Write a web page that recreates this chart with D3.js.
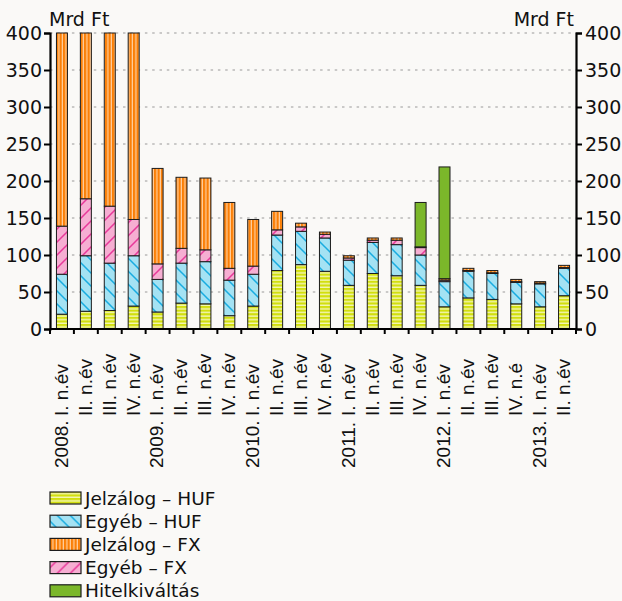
<!DOCTYPE html>
<html><head><meta charset="utf-8">
<script src="https://cdn.jsdelivr.net/npm/d3@7"></script>
<style>body{margin:0;background:#faf9f7;} svg{display:block}</style>
</head><body><svg id="c" width="622" height="601"></svg>
<script>
// ---- data ----
const categories = ["2008 I","2008 II","2008 III","2008 IV","2009 I","2009 II","2009 III","2009 IV",
  "2010 I","2010 II","2010 III","2010 IV","2011 I","2011 II","2011 III","2011 IV",
  "2012 I","2012 II","2012 III","2012 IV","2013 I","2013 II"];
const quarterLabels = ["I. n.év","II. n.év","III. n.év","IV. n.év","I. n.év","II. n.év","III. n.év","IV. n.év",
  "I. n.év","II. n.év","III. n.év","IV. n.év","I. n.év","II. n.év","III. n.év","IV. n.év",
  "I. n.év","II. n.év","III. n.év","IV. n.é","I. n.év","II. n.év"];
const yearLabels = ["2008.","","","","2009.","","","","2010.","","","","2011.","","","","2012.","","","","2013.",""];
const jelzalogHUF = [20,24,25,31,23,35,34,18,31,79,87,78,59,75,72,59,30,42,40,34,30,45];
const egyebHUF    = [54,75,64,68,44,54,57,48,43,48,45,45,34,42,42,41,34,36,35,29,31,37];
const egyebFX     = [65,77,77,49,21,20,16,16,11,7,6,5,3,3,6,10,2,1,1,1,1,1];
const jelzalogFX  = [261,224,234,252,129,96,97,89,63,25,5,3,3,3,3,1,2,3,3,3,2,3];
const hitelkivaltas = [0,0,0,0,0,0,0,0,0,0,0,0,0,0,0,60,151,0,0,0,0,0];
const yTicks = [0,50,100,150,200,250,300,350,400];
const seriesNames = ["Jelzálog – HUF","Egyéb – HUF","Jelzálog – FX","Egyéb – FX","Hitelkiváltás"];

// ---- layout ----
const svg = d3.select("#c");
const L = 50, R = 576, T = 33, B = 329;
const x = d3.scaleBand().domain(categories).range([L, R]).paddingInner(0.54).paddingOuter(0.27);
const y = d3.scaleLinear().domain([0, 400]).range([B, T]);

svg.append("rect").attr("width",622).attr("height",601).attr("fill","#faf9f7");

// patterns
const defs = svg.append("defs");
const pJH = defs.append("pattern").attr("id","pJH").attr("patternUnits","userSpaceOnUse").attr("width",8).attr("height",3.6);
pJH.append("rect").attr("width",8).attr("height",3.6).attr("fill","#d2df0e");
pJH.append("rect").attr("y",2.2).attr("width",8).attr("height",1.4).attr("fill","#f3f6b4");
const pJF = defs.append("pattern").attr("id","pJF").attr("patternUnits","userSpaceOnUse").attr("width",3.5).attr("height",8);
pJF.append("rect").attr("width",3.5).attr("height",8).attr("fill","#fb7f06");
pJF.append("rect").attr("x",2.3).attr("width",1.2).attr("height",8).attr("fill","#ffd0a0");
const pEH = defs.append("pattern").attr("id","pEH").attr("patternUnits","userSpaceOnUse").attr("width",13).attr("height",13);
pEH.append("rect").attr("width",13).attr("height",13).attr("fill","#a4e2f3");
pEH.append("path").attr("d","M-1,-1L14,14M-1,12L1,14M12,-1L14,1").attr("stroke","#18ace0").attr("stroke-width",1.5);
const pEF = defs.append("pattern").attr("id","pEF").attr("patternUnits","userSpaceOnUse").attr("width",13).attr("height",13);
pEF.append("rect").attr("width",13).attr("height",13).attr("fill","#f6aed2");
pEF.append("path").attr("d","M-1,14L14,-1M-1,1L1,-1M12,14L14,12").attr("stroke","#e8399a").attr("stroke-width",1.5);

const fills = {jelzalogHUF:"url(#pJH)", egyebHUF:"url(#pEH)", egyebFX:"url(#pEF)", jelzalogFX:"url(#pJF)", hitelkivaltas:"#7bb72a"};

// gridlines
svg.append("g").selectAll("line").data(yTicks.filter(d=>d>0)).join("line")
  .attr("x1",L).attr("x2",R).attr("y1",d=>y(d)).attr("y2",d=>y(d))
  .attr("stroke","#9a9a9a").attr("stroke-width",1.2).attr("stroke-dasharray","2.5,4.8");

// stacked bars
const rows = categories.map((c,i)=>({cat:c, jelzalogHUF:jelzalogHUF[i], egyebHUF:egyebHUF[i], egyebFX:egyebFX[i], jelzalogFX:jelzalogFX[i], hitelkivaltas:hitelkivaltas[i]}));
const keys = ["jelzalogHUF","egyebHUF","egyebFX","jelzalogFX","hitelkivaltas"];
const stacked = d3.stack().keys(keys)(rows);
svg.append("g").selectAll("g").data(stacked).join("g")
  .attr("fill", d=>fills[d.key])
  .selectAll("rect").data(d=>d.filter(s=>s[1]-s[0]>0)).join("rect")
  .attr("x", d=>x(d.data.cat)).attr("width", x.bandwidth())
  .attr("y", d=>y(d[1])).attr("height", d=>y(d[0])-y(d[1]))
  .attr("stroke","#1c1c1c").attr("stroke-width",1);

// axes
const fontY = "DejaVu Sans, Verdana, sans-serif";
const axL = svg.append("g").attr("transform",`translate(${L},0)`).call(d3.axisLeft(y).tickValues(yTicks).tickSize(6).tickPadding(2));
const axR = svg.append("g").attr("transform",`translate(${R},0)`).call(d3.axisRight(y).tickValues(yTicks).tickSize(6).tickPadding(3));
[axL,axR].forEach(a=>{
  a.select(".domain").attr("stroke","#000").attr("stroke-width",2.2);
  a.selectAll(".tick line").attr("stroke","#000").attr("stroke-width",2);
  a.selectAll(".tick text").attr("font-family",fontY).attr("font-size",19).attr("fill","#111");
});
axL.selectAll(".tick text").attr("dy","0.36em");
axR.selectAll(".tick text").attr("dy","0.36em");

// bottom axis with ticks at band boundaries
const boundaries = categories.map(c=>x(c)-x.step()*x.paddingInner()/2).concat([R]);
svg.append("g").selectAll("line").data(boundaries).join("line")
  .attr("x1",d=>d).attr("x2",d=>d).attr("y1",B).attr("y2",B+5)
  .attr("stroke","#000").attr("stroke-width",2);
svg.append("line").attr("x1",L).attr("x2",R).attr("y1",B).attr("y2",B).attr("stroke","#000").attr("stroke-width",2.2);

// x labels
const fontX = "Liberation Sans, Arial, sans-serif";
svg.append("g").selectAll("text").data(categories).join("text")
  .attr("transform", c=>`translate(${x(c)+x.bandwidth()/2-1},416) rotate(-90)`)
  .attr("dy","0.36em").attr("font-family",fontX).attr("font-size",19).attr("fill","#111")
  .text((c,i)=>quarterLabels[i]);
svg.append("g").selectAll("text").data(categories.filter((c,i)=>yearLabels[i])).join("text")
  .attr("transform", c=>`translate(${x(c)+x.bandwidth()/2-1},468) rotate(-90)`)
  .attr("dy","0.36em").attr("font-family",fontX).attr("font-size",19).attr("fill","#111")
  .text(c=>yearLabels[categories.indexOf(c)]);

// units
svg.append("text").attr("x",49).attr("y",26).attr("font-family",fontY).attr("font-size",19).attr("fill","#111").text("Mrd Ft");
svg.append("text").attr("x",574).attr("y",26).attr("text-anchor","end").attr("font-family",fontY).attr("font-size",19).attr("fill","#111").text("Mrd Ft");

// legend
const legFills = ["url(#pJH)","url(#pEH)","url(#pJF)","url(#pEF)","#7bb72a"];
const leg = svg.append("g").selectAll("g").data(seriesNames).join("g")
  .attr("transform",(d,i)=>`translate(50,${498+i*23.2})`);
leg.append("rect").attr("x",0).attr("y",-6).attr("width",31).attr("height",12)
  .attr("fill",(d,i)=>legFills[i]).attr("stroke","#1c1c1c").attr("stroke-width",1.2);
leg.append("text").attr("x",35).attr("y",0).attr("dy","0.36em").attr("font-family",fontY).attr("font-size",18.5).attr("fill","#111").text(d=>d);
</script></body></html>
